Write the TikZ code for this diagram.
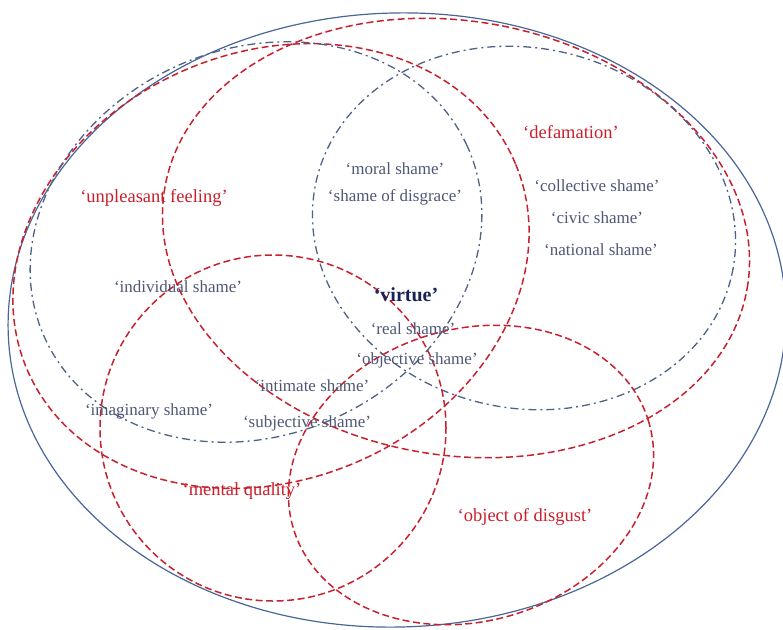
\documentclass[tikz,border=0pt]{standalone}
\usepackage{fontspec}
\setmainfont{Liberation Serif}
\definecolor{cRed}{RGB}{200,32,45}
\definecolor{cBlue}{RGB}{72,102,152}
\definecolor{cDD}{RGB}{78,98,135}
\definecolor{cGray}{RGB}{78,88,118}
\definecolor{cNavy}{RGB}{25,35,90}
\begin{document}
\begin{tikzpicture}[x=1pt,y=-1pt,
  redline/.style={draw=cRed, line width=1.5pt, dash pattern=on 7pt off 3.5pt},
  ddline/.style={draw=cDD, line width=1.3pt, dash pattern=on 8pt off 4pt on 2pt off 4pt},
  outline/.style={draw=cBlue, line width=1.2pt},
  lbl/.style={text=cGray, font=\fontsize{17}{20}\selectfont, inner sep=0pt},
  rlbl/.style={text=cRed, font=\fontsize{18.5}{22}\selectfont, inner sep=0pt},
  vlbl/.style={text=cNavy, font=\fontsize{20}{24}\selectfont\bfseries, inner sep=0pt}
  ]
\useasboundingbox (0,0) rectangle (783,629);
% outer solid ellipse
\draw[outline, rotate around={2:(397,320)}] (397,320) ellipse [x radius=389pt, y radius=307pt];
% big red ellipses
\draw[redline, rotate around={22.7:(271,266)}] (271,266) ellipse [x radius=265pt, y radius=214pt];
\draw[redline, rotate around={-9.8:(456,238)}] (456,238) ellipse [x radius=295.5pt, y radius=217pt];
% blue dash-dot ellipses
\draw[ddline, rotate around={24.4:(256,242)}] (256,242) ellipse [x radius=232pt, y radius=193pt];
\draw[ddline, rotate around={-12.7:(524,228)}] (524,228) ellipse [x radius=213pt, y radius=180pt];
% lower red shapes
\draw[redline] (273,428) circle [radius=173pt];
\draw[redline, rotate around={16.8:(471,475)}] (471,475) ellipse [x radius=185.5pt, y radius=146pt];
% labels
\node[rlbl] (defam) at (571,132) {‘defamation’};
\node[rlbl] (unpl) at (154,198) {‘unpleasant feeling’};
\node[rlbl] (mental) at (242,491) {‘mental quality’};
\node[rlbl] (disgust) at (525,517) {‘object of disgust’};
\node[lbl] (moral) at (395,169) {‘moral shame’};
\node[lbl] (disgrace) at (395,197) {‘shame of disgrace’};
\node[lbl] (collective) at (597,186) {‘collective shame’};
\node[lbl] (civic) at (597,218) {‘civic shame’};
\node[lbl] (national) at (601,250) {‘national shame’};
\node[lbl] (individual) at (178,287) {‘individual shame’};
\node[vlbl] (virtue) at (406,295) {‘virtue’};
\node[lbl] (real) at (413,329) {‘real shame’};
\node[lbl] (objective) at (417,360) {‘objective shame’};
\node[lbl] (intimate) at (312,386) {‘intimate shame’};
\node[lbl] (subjective) at (307,423) {‘subjective shame’};
\node[lbl] (imaginary) at (149,411) {‘imaginary shame’};
\end{tikzpicture}
\end{document}
